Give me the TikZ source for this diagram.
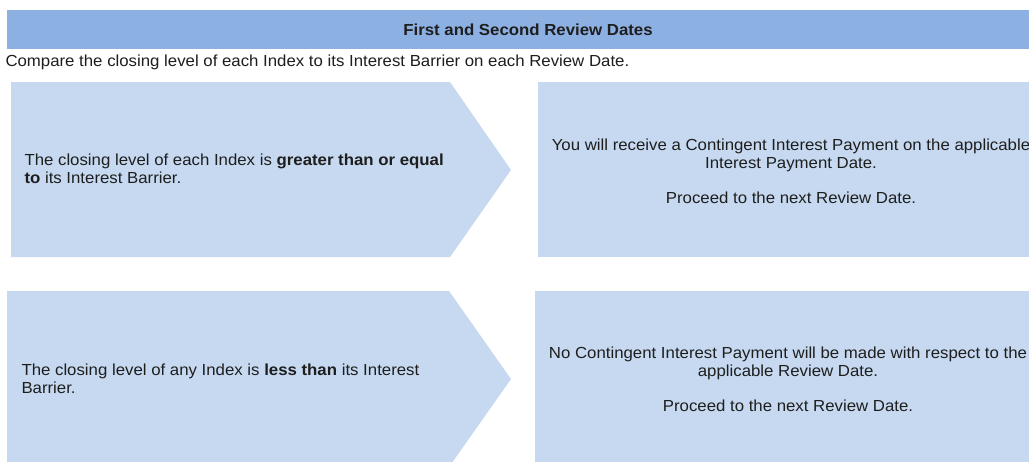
\documentclass[tikz,border=0pt]{standalone}
\usepackage{fontspec}
\setmainfont{Liberation Sans}[FakeStretch=1.05]
\definecolor{hdrblue}{RGB}{141,176,227}
\definecolor{boxblue}{RGB}{198,217,240}
\definecolor{txtgray}{RGB}{30,30,30}

\tikzset{every picture/.style={line width=0.75pt}}
\tikzset{
  txt/.style={inner sep=0.75pt, text=txtgray, font=\fontsize{12}{13.5}\selectfont},
  panel/.style={fill=boxblue, draw=none}
}

\begin{document}
\begin{tikzpicture}[x=0.75pt,y=0.75pt,yscale=-1,xscale=1]
\clip (0,0) rectangle (1029,461);
\fill[white] (0,0) rectangle (1029,461);

%Shape: Rectangle [id:hdrband] 
\fill[hdrblue] (7,10) -- (1049,10) -- (1049,49) -- (7,49) -- cycle ;
%Shape: Arrow [id:arrowtop] 
\fill[boxblue] (11,82) -- (450,82) -- (511,170) -- (450,257) -- (11,257) -- cycle ;
%Shape: Rectangle [id:boxtop] 
\fill[boxblue] (538,82) -- (1045,82) -- (1045,257) -- (538,257) -- cycle ;
%Shape: Arrow [id:arrowbot] 
\fill[boxblue] (7,291) -- (449,291) -- (511,379) -- (449,467) -- (7,467) -- cycle ;
%Shape: Rectangle [id:boxbot] 
\fill[boxblue] (535,291) -- (1045,291) -- (1045,467) -- (535,467) -- cycle ;

% Text Node
\draw (528,30) node (hdr) [txt] [align=center] {\textbf{First and Second Review Dates}};
% Text Node
\draw (4,62) node (intro) [txt,anchor=west] [align=left] {Compare the closing level of each Index to its Interest Barrier on each Review Date.};
% Text Node
\draw (23,169) node (condtop) [txt,anchor=west] [align=left] {The closing level of each Index is \textbf{greater than or equal}\\\textbf{to} its Interest Barrier.};
% Text Node
\draw (791,171) node (restop) [txt] [align=center] {You will receive a Contingent Interest Payment on the applicable\\Interest Payment Date.\\[13pt]Proceed to the next Review Date.};
% Text Node
\draw (20,379) node (condbot) [txt,anchor=west] [align=left] {The closing level of any Index is \textbf{less than} its Interest\\Barrier.};
% Text Node
\draw (788,379) node (resbot) [txt] [align=center] {No Contingent Interest Payment will be made with respect to the\\applicable Review Date.\\[13pt]Proceed to the next Review Date.};

\end{tikzpicture}
\end{document}
